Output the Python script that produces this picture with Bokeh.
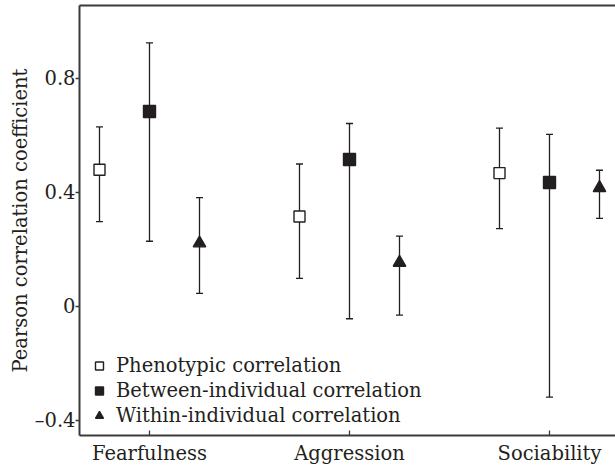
from bokeh.plotting import figure
from bokeh.models import (ColumnDataSource, Whisker, TeeHead, Range1d, FixedTicker,
                          Legend, LegendItem, LinearAxis)
from bokeh.embed import file_html
from bokeh.resources import INLINE

# ---- data ----
categories = ["Fearfulness", "Aggression", "Sociability"]
series = ["Phenotypic correlation", "Between-individual correlation", "Within-individual correlation"]

phen_mean = [0.48, 0.316, 0.468]
phen_upper = [0.63, 0.50, 0.626]
phen_lower = [0.298, 0.099, 0.273]

betw_mean = [0.684, 0.516, 0.435]
betw_upper = [0.925, 0.642, 0.604]
betw_lower = [0.229, -0.043, -0.318]

with_mean = [0.222, 0.154, 0.416]
with_upper = [0.382, 0.247, 0.478]
with_lower = [0.046, -0.030, 0.309]

y_ticks = [-0.4, 0.0, 0.4, 0.8]
y_tick_labels = ["\u20130.4", "0", "0.4", "0.8"]

# ---- style ----
FONT = "DejaVu Serif"
INK = "#231f20"
AXC = "#3a3a3a"
FS = "19.5px"

cat_pos = [i + 1 for i in range(len(categories))]
offsets = [-0.25, 0.0, 0.25]

p = figure(frame_width=536, frame_height=430,
           x_range=Range1d(0.65, 3.33), y_range=Range1d(-0.4526, 1.0561),
           output_backend="svg", toolbar_location=None,
           min_border_left=79, min_border_right=0, min_border_top=5, min_border_bottom=0)
p.grid.visible = False
p.outline_line_color = None
p.background_fill_color = "white"

def add_series(mean, upper, lower, off, marker, fill, size):
    xs = [c + off for c in cat_pos]
    src = ColumnDataSource(dict(x=xs, y=mean, upper=upper, lower=lower))
    w = Whisker(base="x", upper="upper", lower="lower", source=src, dimension="height",
                line_color=INK, line_width=1.3,
                upper_head=TeeHead(size=7, line_color=INK, line_width=1.3),
                lower_head=TeeHead(size=7, line_color=INK, line_width=1.3))
    p.add_layout(w)
    r = p.scatter("x", "y", source=src, marker=marker, size=size,
                  fill_color=fill, line_color=INK, line_width=1.4)
    return r

r1 = add_series(phen_mean, phen_upper, phen_lower, offsets[0], "square", "white", 11)
r2 = add_series(betw_mean, betw_upper, betw_lower, offsets[1], "square", INK, 12)
r3 = add_series(with_mean, with_upper, with_lower, offsets[2], "triangle", INK, 12.5)

# axes
xa = p.xaxis[0]
xa.ticker = FixedTicker(ticks=cat_pos)
xa.major_label_overrides = {c: lab for c, lab in zip(cat_pos, categories)}
xa.major_tick_in = 5
xa.major_tick_out = 0
xa.minor_tick_line_color = None
xa.major_label_standoff = 6
xa.axis_line_color = AXC
xa.axis_line_width = 2
xa.major_tick_line_color = AXC
xa.major_tick_line_width = 1.3
xa.major_label_text_font = FONT
xa.major_label_text_font_size = FS
xa.major_label_text_color = INK

ya = p.yaxis[0]
ya.ticker = FixedTicker(ticks=y_ticks)
ya.major_label_overrides = {t: lab for t, lab in zip(y_ticks, y_tick_labels)}
ya.major_tick_in = 0
ya.major_tick_out = 4
ya.minor_tick_line_color = None
ya.major_label_standoff = 0
ya.axis_line_color = AXC
ya.axis_line_width = 2
ya.major_tick_line_color = AXC
ya.major_tick_line_width = 1.3
ya.major_label_text_font = FONT
ya.major_label_text_font_size = FS
ya.major_label_text_color = INK
ya.axis_label = "Pearson correlation coefficient"
ya.axis_label_text_font = FONT
ya.axis_label_text_font_size = FS
ya.axis_label_text_font_style = "normal"
ya.axis_label_text_color = INK
ya.axis_label_standoff = 0

top = LinearAxis(ticker=FixedTicker(ticks=[]), major_tick_out=0, major_tick_in=0,
                 minor_tick_out=0, minor_tick_in=0, major_label_text_font_size="0px",
                 major_label_standoff=0, axis_line_color=AXC, axis_line_width=2)
p.add_layout(top, "above")

legend = Legend(items=[LegendItem(label=series[0], renderers=[r1]),
                       LegendItem(label=series[1], renderers=[r2]),
                       LegendItem(label=series[2], renderers=[r3])],
                location=(10, 8), padding=0, margin=0, spacing=2,
                glyph_width=20, glyph_height=23, label_standoff=7,
                label_text_font=FONT, label_text_font_size=FS, label_text_color=INK,
                border_line_color=None, background_fill_alpha=0)
p.add_layout(legend, "center")

open("out.html", "w").write(file_html(p, INLINE))
